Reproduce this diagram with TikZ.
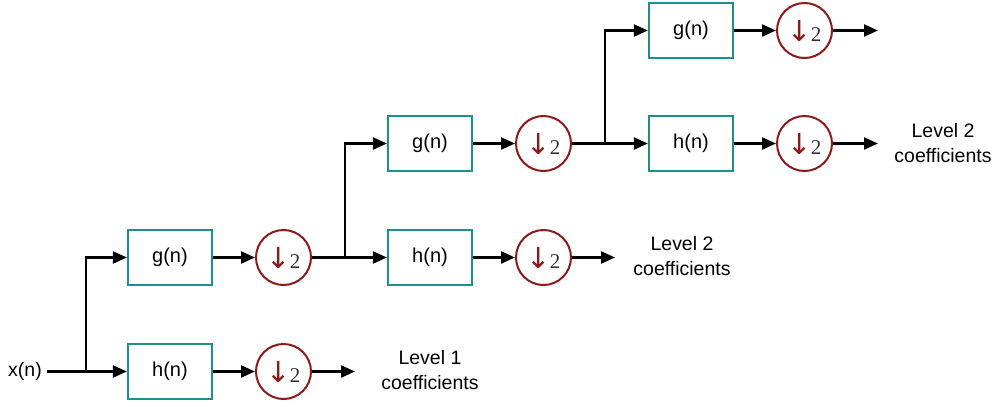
\documentclass[tikz,border=0pt]{standalone}
\usepackage{fontspec}
\setmainfont{Liberation Sans}
\newfontfamily\symfont{DejaVu Sans}
\newfontfamily\numfont{Liberation Serif}
\usetikzlibrary{arrows.meta}
\definecolor{teal1}{HTML}{1E8F8F}
\definecolor{dred}{HTML}{8B1A1A}
\definecolor{dgray}{HTML}{333333}
\tikzset{
  filt/.style={draw=teal1, line width=2.2pt, minimum width=84pt, minimum height=55pt, inner sep=0pt, font=\fontsize{20}{24}\selectfont},
  down/.style={draw=dred, line width=2pt, circle, minimum size=55pt, inner sep=0pt},
  lbl/.style={align=center, font=\fontsize{19.5}{24.5}\selectfont, inner sep=0pt},
  conn/.style={line width=2.2pt, -{Triangle[length=14pt,width=12pt]}},
  wire/.style={line width=2.2pt}
}
\newcommand{\dsym}{{\color{dred}\symfont\fontsize{29}{30}\selectfont ↓}\kern-1pt{\color{dgray}\numfont\fontsize{21}{22}\selectfont 2}}
\begin{document}
\begin{tikzpicture}[x=1pt,y=-1pt]
\useasboundingbox (0,0) rectangle (994,407);
% row 1
\node[lbl, inner sep=5pt] (xin) at (25,371.5) {x(n)};
\node[filt] (h1) at (170,371.5) {h(n)};
\node[down] (d1) at (283.5,371.5) {\dsym};
\coordinate (o1) at (355,371.5);
\node[lbl] (l1) at (430,370) {Level 1\\coefficients};
\coordinate (j1) at (86,371.5);
% row 2
\node[filt] (g1) at (170,257.5) {g(n)};
\node[down] (d2) at (283.5,257.5) {\dsym};
\coordinate (j2) at (345,257.5);
\node[filt] (h2) at (430,257.5) {h(n)};
\node[down] (d3) at (543.5,257.5) {\dsym};
\coordinate (o2) at (615,257.5);
\node[lbl] (l2) at (682,256) {Level 2\\coefficients};
% row 3
\node[filt] (g2) at (430,143.5) {g(n)};
\node[down] (d4) at (543.5,143.5) {\dsym};
\coordinate (j3) at (605,143.5);
\node[filt] (h3) at (691,143.5) {h(n)};
\node[down] (d5) at (804.5,143.5) {\dsym};
\coordinate (o3) at (878,143.5);
\node[lbl] (l3) at (943,143) {Level 2\\coefficients};
% row 4
\node[filt] (g3) at (691,30.5) {g(n)};
\node[down] (d6) at (804.5,30.5) {\dsym};
\coordinate (o4) at (878,30.5);
% connectors
\draw[conn] (xin.east) -- (h1.west);
\draw[conn] (j1) |- (g1.west);
\draw[conn] (h1) -- (d1);
\draw[conn] (d1) -- (o1);
\draw[conn] (g1) -- (d2);
\draw[conn] (d2) -- (h2.west);
\draw[conn] (j2) |- (g2.west);
\draw[conn] (h2) -- (d3);
\draw[conn] (d3) -- (o2);
\draw[conn] (g2) -- (d4);
\draw[conn] (d4) -- (h3.west);
\draw[conn] (j3) |- (g3.west);
\draw[conn] (h3) -- (d5);
\draw[conn] (d5) -- (o3);
\draw[conn] (g3) -- (d6);
\draw[conn] (d6) -- (o4);
\end{tikzpicture}
\end{document}
